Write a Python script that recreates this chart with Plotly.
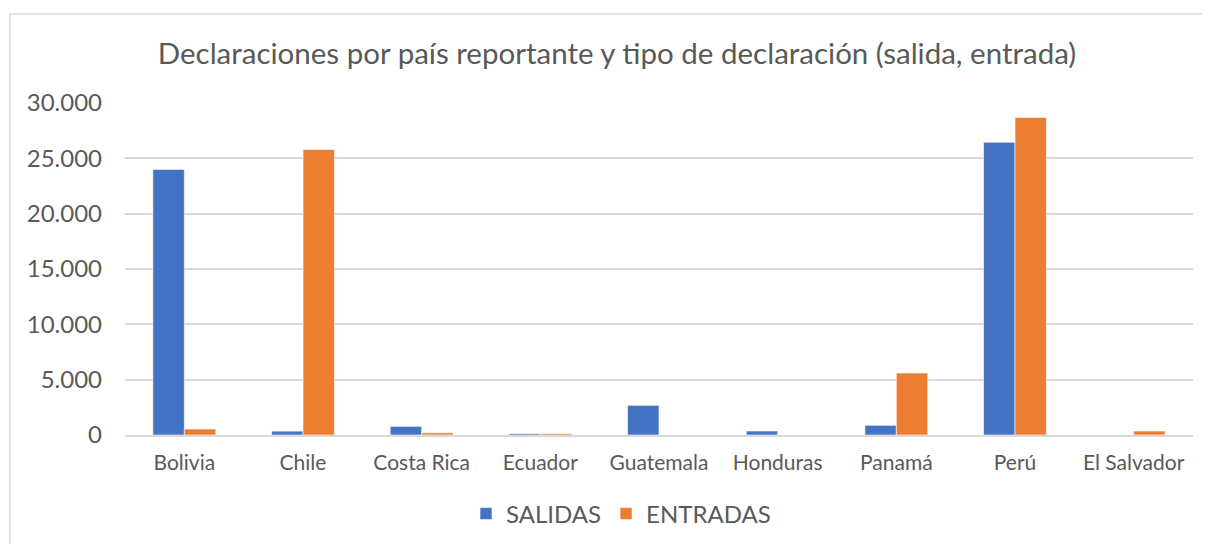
import plotly.graph_objects as go

categories = ["Bolivia", "Chile", "Costa Rica", "Ecuador", "Guatemala", "Honduras", "Panamá", "Perú", "El Salvador"]
salidas = [24000, 350, 780, 120, 2680, 360, 870, 26450, 0]
entradas = [540, 25800, 200, 120, 0, 0, 5600, 28700, 360]
y_ticks = [0, 5000, 10000, 15000, 20000, 25000, 30000]
y_tick_labels = ["0", "5.000", "10.000", "15.000", "20.000", "25.000", "30.000"]

TEXT = "#595959"
FONT = "Lato"
W, H = 1210, 544

fig = go.Figure()
fig.add_trace(go.Bar(name="SALIDAS", x=categories, y=salidas,
                     marker=dict(color="#4472C4", line=dict(color="#FFFFFF", width=0.6))))
fig.add_trace(go.Bar(name="ENTRADAS", x=categories, y=entradas,
                     marker=dict(color="#ED7D31", line=dict(color="#FFFFFF", width=0.6))))

fig.update_layout(
    width=W, height=H, autosize=False,
    barmode="group", bargap=0.47, bargroupgap=0,
    paper_bgcolor="white", plot_bgcolor="white",
    margin=dict(l=117, r=25, t=95, b=117),
    font=dict(family=FONT, color=TEXT, size=18),
    title=dict(text="Declaraciones por país reportante y tipo de declaración (salida, entrada)",
               x=609/W, xanchor="center", xref="container",
               y=1 - 46/H, yanchor="middle", yref="container",
               font=dict(family=FONT, size=29.5, color=TEXT)),
    legend=dict(orientation="h", x=613/W, xanchor="center", xref="container",
                y=1 - 506/H, yanchor="middle", yref="container",
                font=dict(family=FONT, size=24, color=TEXT),
                itemclick=False, tracegroupgap=0, itemwidth=30),
    xaxis=dict(showgrid=False, showline=True, linecolor="#D9D9D9", linewidth=1.5,
               ticks="", ticklabelstandoff=8, tickfont=dict(family=FONT, size=21, color=TEXT)),
    yaxis=dict(range=[0, 30000], tickvals=y_ticks, ticktext=y_tick_labels,
               showgrid=True, gridcolor="#D9D9D9", gridwidth=1.5,
               zeroline=False, showline=False, ticks="", ticklabelstandoff=22,
               tickfont=dict(family=FONT, size=24, color=TEXT)),
    shapes=[dict(type="rect", xref="paper", yref="paper",
                 x0=-115/1068, x1=1.2, y0=-0.5, y1=421/332,
                 line=dict(color="#D9D9D9", width=1.5), fillcolor="rgba(0,0,0,0)", layer="below")],
)

fig.write_html("out.html")
